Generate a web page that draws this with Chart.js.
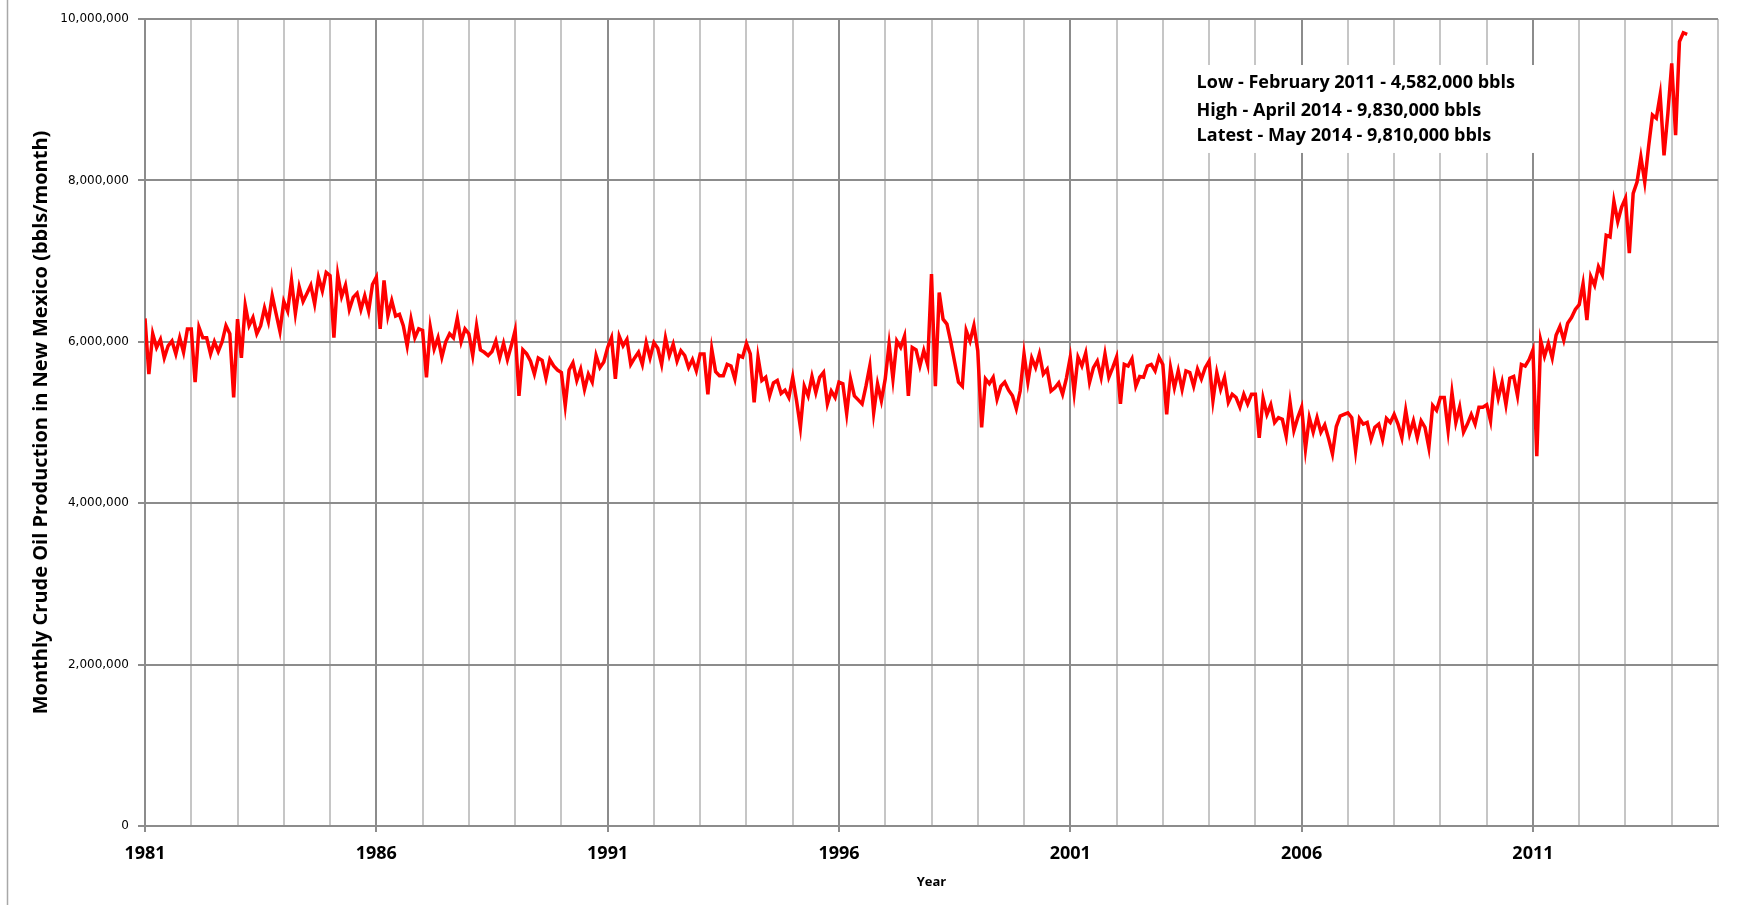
<!DOCTYPE html>
<html>
<head>
<meta charset="utf-8">
<script src="https://cdn.jsdelivr.net/npm/chart.js@4.4.1/dist/chart.umd.min.js"></script>
<style>
  html, body { margin: 0; padding: 0; background: #fff; }
  #wrap { width: 1739px; height: 905px; }
</style>
</head>
<body>
<div id="wrap"><canvas id="chart" width="1739" height="905"></canvas></div>
<script>
const firstYear = 1981;
const lastYear = 2015;

// monthly crude oil production, thousand bbls, Jan..Dec (2014 ends in May)
const production = [
  [6290, 5600, 6100, 5930, 6030, 5800, 5950, 6010, 5850, 6050, 5870, 6160], // 1981
  [6160, 5500, 6180, 6050, 6050, 5850, 6000, 5880, 6000, 6200, 6100, 5310], // 1982
  [6280, 5800, 6450, 6200, 6300, 6100, 6200, 6420, 6250, 6570, 6350, 6130], // 1983
  [6500, 6380, 6760, 6350, 6680, 6500, 6600, 6700, 6470, 6800, 6630, 6860], // 1984
  [6820, 6050, 6830, 6560, 6700, 6400, 6550, 6600, 6400, 6570, 6380, 6710], // 1985
  [6800, 6160, 6760, 6320, 6510, 6320, 6340, 6200, 5950, 6280, 6050, 6160], // 1986
  [6140, 5560, 6180, 5910, 6050, 5810, 6000, 6100, 6050, 6290, 6000, 6160], // 1987
  [6100, 5830, 6200, 5900, 5870, 5830, 5880, 6010, 5800, 5980, 5780, 5950], // 1988
  [6140, 5330, 5900, 5850, 5760, 5600, 5800, 5770, 5550, 5780, 5700, 5650], // 1989
  [5620, 5210, 5650, 5740, 5520, 5660, 5410, 5600, 5500, 5830, 5680, 5750], // 1990
  [5930, 6050, 5540, 6070, 5950, 6030, 5720, 5800, 5870, 5720, 5990, 5800], // 1991
  [5990, 5920, 5720, 6050, 5830, 5970, 5760, 5890, 5830, 5680, 5780, 5640], // 1992
  [5850, 5850, 5350, 5910, 5630, 5580, 5580, 5720, 5700, 5540, 5830, 5810], // 1993
  [5980, 5850, 5250, 5810, 5520, 5560, 5330, 5490, 5520, 5360, 5400, 5310], // 1994
  [5560, 5270, 4940, 5450, 5330, 5570, 5370, 5560, 5620, 5230, 5390, 5310], // 1995
  [5500, 5480, 5110, 5540, 5330, 5280, 5230, 5450, 5700, 5120, 5480, 5270], // 1996
  [5540, 5970, 5540, 6010, 5930, 6070, 5330, 5930, 5900, 5700, 5890, 5720], // 1997
  [6840, 5450, 6610, 6280, 6220, 6000, 5750, 5500, 5450, 6140, 6010, 6200], // 1998
  [5890, 4940, 5540, 5480, 5560, 5290, 5450, 5500, 5400, 5330, 5170, 5390], // 1999
  [5850, 5500, 5800, 5680, 5850, 5600, 5660, 5390, 5430, 5490, 5350, 5550], // 2000
  [5810, 5370, 5810, 5700, 5860, 5500, 5680, 5760, 5560, 5850, 5560, 5680], // 2001
  [5810, 5230, 5720, 5700, 5790, 5450, 5570, 5560, 5700, 5720, 5640, 5810], // 2002
  [5720, 5100, 5680, 5430, 5640, 5410, 5640, 5620, 5450, 5660, 5540, 5680], // 2003
  [5760, 5270, 5620, 5410, 5560, 5250, 5350, 5310, 5190, 5350, 5230, 5350], // 2004
  [5350, 4810, 5300, 5100, 5220, 5000, 5060, 5040, 4830, 5250, 4900, 5060], // 2005
  [5190, 4670, 5060, 4880, 5060, 4880, 4970, 4800, 4610, 4950, 5080, 5100], // 2006
  [5120, 5060, 4650, 5050, 4980, 5000, 4790, 4940, 4980, 4790, 5050, 5000], // 2007
  [5100, 4980, 4810, 5150, 4860, 5020, 4810, 5020, 4940, 4690, 5210, 5150], // 2008
  [5310, 5310, 4900, 5370, 5000, 5190, 4880, 4980, 5100, 4980, 5190, 5190], // 2009
  [5220, 5020, 5550, 5300, 5500, 5220, 5550, 5570, 5330, 5720, 5700, 5780], // 2010
  [5900, 4582, 6020, 5820, 5980, 5800, 6080, 6190, 6020, 6230, 6300, 6400], // 2011
  [6460, 6720, 6270, 6810, 6700, 6930, 6830, 7320, 7300, 7740, 7490, 7670], // 2012
  [7780, 7100, 7840, 7980, 8290, 7980, 8420, 8810, 8770, 9060, 8310, 8830], // 2013
  [9450, 8560, 9720, 9830, 9810]                                            // 2014
];

const yMax = 10000000;
const yStep = 2000000;
const labelEvery = 5;

const notes = [
  "Low - February 2011 - 4,582,000 bbls",
  "High - April 2014 - 9,830,000 bbls",
  "Latest - May 2014 - 9,810,000 bbls"
];

const points = [];
production.forEach((row, yi) => {
  row.forEach((v, m) => {
    points.push({ x: firstYear + yi + m / 12, y: v * 1000 });
  });
});

const isMajor = (v) => (v - firstYear) % labelEvery === 0;
const majorGrid = "#8c8c8c";
const minorGrid = "#c6c6c6";

// note box + the thin frame line on the far left
const notesPlugin = {
  id: "notes",
  beforeDraw(chart) {
    const ctx = chart.ctx;
    ctx.save();
    ctx.strokeStyle = "#a8a8a8";
    ctx.lineWidth = 1.5;
    ctx.beginPath();
    ctx.moveTo(7.5, 0);
    ctx.lineTo(7.5, chart.height);
    ctx.stroke();
    ctx.restore();
  },
  afterDraw(chart) {
    const { ctx, scales } = chart;
    const x = scales.x, y = scales.y;
    const left = x.getPixelForValue(2003.15);
    const right = x.getPixelForValue(2011.26);
    const top = y.getPixelForValue(9430000);
    const bottom = y.getPixelForValue(8340000);
    ctx.save();
    ctx.fillStyle = "#fff";
    ctx.fillRect(left, top, right - left, bottom - top);
    ctx.fillStyle = "#000";
    ctx.font = "bold 18px 'Open Sans'";
    ctx.textBaseline = "middle";
    ctx.textAlign = "left";
    const tx = x.getPixelForValue(2003.73);
    const rows = [9207000, 8866000, 8550000];
    notes.forEach((t, i) => ctx.fillText(t, tx, y.getPixelForValue(rows[i])));
    ctx.restore();
  }
};

new Chart(document.getElementById("chart"), {
  type: "line",
  data: {
    datasets: [{
      data: points,
      borderColor: "#ff0000",
      borderWidth: 3.5,
      pointRadius: 0,
      tension: 0,
      fill: false
    }]
  },
  options: {
    responsive: false,
    animation: false,
    layout: { padding: { top: 19, right: 21, left: 0, bottom: 0 } },
    plugins: { legend: { display: false }, tooltip: { enabled: false } },
    scales: {
      x: {
        type: "linear",
        min: firstYear,
        max: lastYear,
        afterFit: (s) => { s.height = 79; },
        ticks: {
          stepSize: 1,
          autoSkip: false,
          maxRotation: 0,
          padding: 11,
          color: "#000",
          font: { family: "'Open Sans'", size: 18, weight: "bold" },
          callback: (v) => (isMajor(v) && v < lastYear ? String(v) : "")
        },
        grid: {
          lineWidth: 2,
          color: (c) => (c.tick && isMajor(c.tick.value) ? majorGrid : minorGrid),
          tickColor: (c) => (c.tick && isMajor(c.tick.value) ? majorGrid : "rgba(0,0,0,0)"),
          tickLength: 6
        },
        border: { color: majorGrid, width: 2 },
        title: {
          display: true,
          text: "Year",
          color: "#000",
          font: { family: "'Open Sans'", size: 13, weight: "bold" },
          padding: { bottom: 15 }
        }
      },
      y: {
        min: 0,
        max: yMax,
        afterFit: (s) => { s.width = 145; },
        ticks: {
          stepSize: yStep,
          padding: 9,
          color: "#000",
          font: { family: "'DejaVu Sans'", size: 12 },
          callback: (v) => v.toLocaleString("en-US")
        },
        grid: { lineWidth: 2, color: majorGrid, tickLength: 7 },
        border: { color: majorGrid, width: 2 },
        title: {
          display: true,
          text: "Monthly Crude Oil Production in New Mexico (bbls/month)",
          color: "#000",
          font: { family: "'Open Sans'", size: 20, weight: "bold" },
          padding: { top: 29 }
        }
      }
    }
  },
  plugins: [notesPlugin]
});
</script>
</body>
</html>
